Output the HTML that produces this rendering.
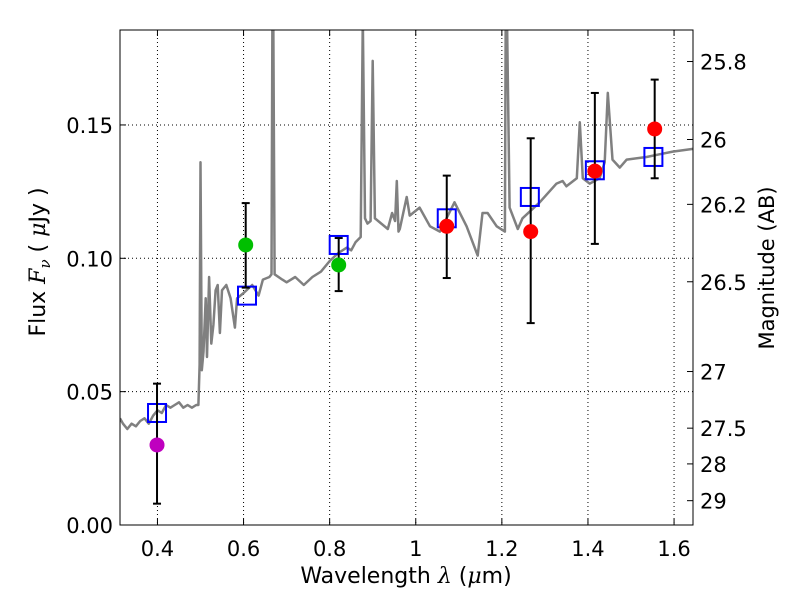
<!DOCTYPE html>
<html><head><meta charset="utf-8"><style>
html,body{margin:0;padding:0;background:#fff;}
svg{display:block;font-family:"DejaVu Sans","Liberation Sans",sans-serif;}
</style></head><body>
<svg id="chart" width="800" height="600" xmlns="http://www.w3.org/2000/svg"></svg>
<script>
const specW=[0.313,0.32,0.33,0.34,0.35,0.36,0.37,0.38,0.39,0.40,0.41,0.42,0.43,0.44,0.45,0.46,0.47,0.48,0.49,0.495,0.498,0.500,0.503,0.507,0.512,0.515,0.52,0.525,0.53,0.535,0.54,0.545,0.55,0.56,0.57,0.58,0.585,0.60,0.62,0.635,0.645,0.66,0.665,0.667,0.669,0.672,0.69,0.70,0.72,0.74,0.76,0.78,0.80,0.82,0.84,0.85,0.86,0.872,0.877,0.882,0.888,0.895,0.90,0.905,0.92,0.935,0.945,0.952,0.956,0.96,0.963,0.979,0.986,1.009,1.033,1.056,1.09,1.118,1.144,1.155,1.167,1.188,1.207,1.209,1.212,1.218,1.237,1.248,1.288,1.327,1.341,1.35,1.374,1.381,1.388,1.404,1.427,1.439,1.446,1.457,1.474,1.49,1.536,1.566,1.597,1.644];
const specF=[0.040,0.038,0.036,0.038,0.037,0.039,0.040,0.038,0.041,0.043,0.042,0.045,0.044,0.045,0.046,0.044,0.045,0.044,0.045,0.045,0.060,0.136,0.058,0.065,0.085,0.063,0.093,0.068,0.075,0.088,0.090,0.072,0.088,0.090,0.085,0.074,0.085,0.087,0.090,0.086,0.092,0.093,0.094,0.19,0.19,0.094,0.092,0.091,0.093,0.090,0.093,0.095,0.099,0.102,0.104,0.103,0.106,0.108,0.19,0.115,0.113,0.114,0.174,0.115,0.113,0.111,0.117,0.114,0.129,0.110,0.111,0.123,0.116,0.119,0.112,0.110,0.121,0.112,0.101,0.117,0.117,0.112,0.110,0.19,0.19,0.119,0.111,0.115,0.121,0.128,0.129,0.127,0.130,0.151,0.130,0.128,0.130,0.136,0.162,0.137,0.134,0.137,0.138,0.139,0.140,0.141];
const ptW=[0.399,0.605,0.821,1.072,1.267,1.416,1.555];
const ptF=[0.030,0.105,0.0975,0.112,0.110,0.1327,0.1485];
const ptLo=[0.008,0.089,0.0877,0.0926,0.0757,0.1054,0.130];
const ptHi=[0.053,0.1207,0.1076,0.131,0.145,0.162,0.167];
const ptColor=['#bf00bf','#00bf00','#00bf00','#ff0000','#ff0000','#ff0000','#ff0000'];
const sqW=[0.399,0.608,0.821,1.072,1.265,1.416,1.552];
const sqF=[0.042,0.086,0.105,0.115,0.123,0.133,0.138];
const xTicks=[0.4,0.6,0.8,1.0,1.2,1.4,1.6];
const xTickLabels=['0.4','0.6','0.8','1','1.2','1.4','1.6'];
const yTicks=[0,0.05,0.10,0.15];
const yTickLabels=['0.00','0.05','0.10','0.15'];
const magTicks=[25.8,26,26.2,26.5,27,27.5,28,29];
const magTickLabels=['25.8','26','26.2','26.5','27','27.5','28','29'];

const L=120,R=693,T=30,B=525,XMIN=0.313,XMAX=1.644,YMIN=0,YMAX=0.1856;
const sx=w=>L+(w-XMIN)/(XMAX-XMIN)*(R-L);
const sy=f=>B-(f-YMIN)/(YMAX-YMIN)*(B-T);
const NS='http://www.w3.org/2000/svg';
const svg=document.getElementById('chart');
function mk(tag,attrs,parent){const e=document.createElementNS(NS,tag);for(const k in attrs)e.setAttribute(k,attrs[k]);(parent||svg).appendChild(e);return e;}

const defs=mk('defs',{});
const cp=mk('clipPath',{id:'clip'},defs);mk('rect',{x:L,y:T,width:R-L,height:B-T},cp);

xTicks.forEach(v=>{const g=mk('line',{x1:sx(v),x2:sx(v),y1:T,y2:B,stroke:'#000','stroke-width':1,'stroke-dasharray':'1,3'});

});
yTicks.forEach(v=>{const g=mk('line',{x1:L,x2:R,y1:sy(v),y2:sy(v),stroke:'#000','stroke-width':1,'stroke-dasharray':'1,3'});

});

let d='';specW.forEach((w,i)=>{d+=(i?'L':'M')+sx(w).toFixed(1)+','+sy(specF[i]).toFixed(1);});
const sp=mk('path',{d:d,fill:'none',stroke:'#808080','stroke-width':2.5,'stroke-linejoin':'round','clip-path':'url(#clip)'});



sqW.forEach((w,i)=>{const s=mk('rect',{x:sx(w)-9,y:sy(sqF[i])-9,width:18,height:18,fill:'none',stroke:'#0000ff','stroke-width':2});

});

ptW.forEach((w,i)=>{const x=sx(w);
const g=mk('g',{});


mk('line',{x1:x,x2:x,y1:sy(ptLo[i]),y2:sy(ptHi[i]),stroke:'#000','stroke-width':2},g);
mk('line',{x1:x-4,x2:x+4,y1:sy(ptLo[i]),y2:sy(ptLo[i]),stroke:'#000','stroke-width':2},g);
mk('line',{x1:x-4,x2:x+4,y1:sy(ptHi[i]),y2:sy(ptHi[i]),stroke:'#000','stroke-width':2},g);
const c=mk('circle',{cx:x,cy:sy(ptF[i]),r:7.5,fill:ptColor[i]});

});

const fr=mk('rect',{x:L,y:T,width:R-L,height:B-T,fill:'none',stroke:'#000','stroke-width':1});



xTicks.forEach((v,i)=>{const x=sx(v);
mk('line',{x1:x,x2:x,y1:B,y2:B-6,stroke:'#000'});mk('line',{x1:x,x2:x,y1:T,y2:T+6,stroke:'#000'});
const t=mk('text',{x:x,y:B+31,'font-size':21,'text-anchor':'middle'});t.textContent=xTickLabels[i];

});
yTicks.forEach((v,i)=>{const y=sy(v);
mk('line',{x1:L,x2:L+6,y1:y,y2:y,stroke:'#000'});
const t=mk('text',{x:L-7,y:y+8,'font-size':21,'text-anchor':'end'});t.textContent=yTickLabels[i];

});
magTicks.forEach((m,i)=>{const y=sy(Math.pow(10,(23.9-m)/2.5));
mk('line',{x1:R-6,x2:R,y1:y,y2:y,stroke:'#000'});
const t=mk('text',{x:R+7,y:y+8,'font-size':21,'text-anchor':'start'});t.textContent=magTickLabels[i];

});
</script>
<svg style="position:absolute;left:0;top:0" width="800" height="600" xmlns="http://www.w3.org/2000/svg">
<text x="406" y="583" font-size="22" text-anchor="middle" font-family="DejaVu Sans, sans-serif">Wavelength  <tspan font-family="DejaVu Serif, serif" font-style="italic">λ</tspan> (<tspan font-family="DejaVu Serif, serif" font-style="italic">μ</tspan>m)</text>
<text transform="translate(45,262) rotate(-90)" font-size="22" text-anchor="middle" font-family="DejaVu Sans, sans-serif">Flux  <tspan font-family="DejaVu Serif, serif" font-style="italic">F</tspan><tspan font-family="DejaVu Serif, serif" font-style="italic" font-size="15" dy="5">ν</tspan><tspan dy="-5">  (  </tspan><tspan font-family="DejaVu Serif, serif" font-style="italic">μ</tspan>Jy )</text>
<text transform="translate(774,268) rotate(-90)" font-size="21" text-anchor="middle" font-family="DejaVu Sans, sans-serif">Magnitude (AB)</text>
</svg>
</body></html>
